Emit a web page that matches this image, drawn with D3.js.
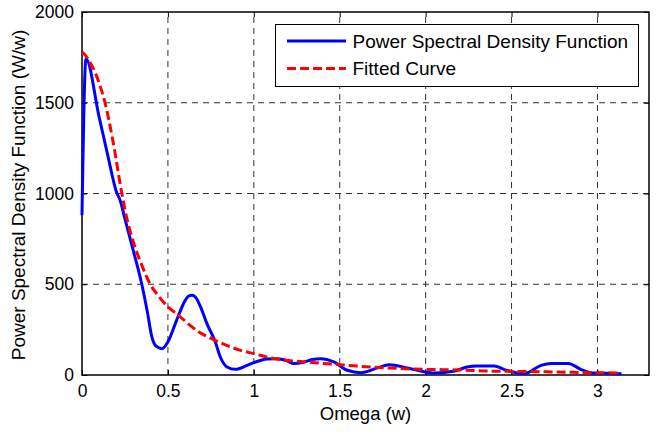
<!DOCTYPE html>
<html><head><meta charset="utf-8">
<script src="https://cdn.jsdelivr.net/npm/d3@7"></script>
<style>
html,body{margin:0;padding:0;background:#fff;}
svg{display:block;font-family:"Liberation Sans",Arial,sans-serif;}
</style></head>
<body>
<svg id="chart" width="662" height="434"></svg>
<script>
// ---- data ----
const psdOmega = [0,0.023,0.1,0.15,0.2,0.222,0.25,0.3,0.348,0.38,0.407,0.43,0.465,0.5,0.55,0.6,0.62,0.64,0.66,0.69,0.727,0.776,0.805,0.844,0.893,0.961,1.0,1.077,1.136,1.19,1.233,1.29,1.34,1.389,1.466,1.544,1.622,1.72,1.787,1.894,1.97,2.05,2.17,2.24,2.3,2.4,2.458,2.507,2.575,2.672,2.73,2.83,2.905,2.96,3.05,3.14];
const psdValues = [880,1743,1420,1210,1010,962,860,680,500,350,209,160,145,182,300,410,435,440,430,375,283,182,99,44,31,53,68,88,90,80,63,70,85,90,72,26,13,39,57,39,22,11,22,44,50,50,30,17,8,53,63,63,30,13,9,7];
const fitOmega = [0,0.008,0.05,0.1,0.134,0.18,0.232,0.26,0.3,0.35,0.397,0.45,0.5,0.562,0.62,0.688,0.766,0.85,0.922,1.0,1.08,1.155,1.23,1.31,1.4,1.5,1.6,1.758,1.99,2.2,2.34,2.5,2.73,2.96,3.14];
const fitValues = [1780,1774,1718,1608,1500,1290,1000,868,730,600,500,430,375,329,280,233,195,160,136,118,98,85,77,72,64,57,49,40,31,28,22,20,17,13,11];
const xTicks = [0,0.5,1,1.5,2,2.5,3];
const yTicks = [0,500,1000,1500,2000];
const seriesNames = ["Power Spectral Density Function","Fitted Curve"];
const xLabel = "Omega (w)";
const yLabel = "Power Spectral Density Function (W/w)";

// ---- layout ----
const L=82, R=649, T=12, B=375;
const svg = d3.select("#chart");
const x = d3.scaleLinear().domain([0,3.3]).range([L,R]);
const y = d3.scaleLinear().domain([0,2000]).range([B,T]);

// grid
const grid = svg.append("g").attr("stroke","#333").attr("stroke-width",1).attr("stroke-dasharray","6,5").attr("fill","none");
xTicks.filter(v=>v>0).forEach(v=>{
  grid.append("line").attr("x1",x(v)).attr("x2",x(v)).attr("y1",B).attr("y2",T);
});
yTicks.filter(v=>v>0 && v<2000).forEach(v=>{
  grid.append("line").attr("x1",L).attr("x2",R).attr("y1",y(v)).attr("y2",y(v));
});

// axes (ticks inside)
const fs = "17.5px";
const ax = svg.append("g").attr("transform",`translate(0,${B})`)
  .call(d3.axisBottom(x).tickValues(xTicks).tickSize(-5).tickPadding(10).tickFormat(d3.format("")));
const ay = svg.append("g").attr("transform",`translate(${L},0)`)
  .call(d3.axisLeft(y).tickValues(yTicks).tickSize(-5).tickPadding(8).tickFormat(d3.format("")));
const axTop = svg.append("g").attr("transform",`translate(0,${T})`)
  .call(d3.axisTop(x).tickValues(xTicks).tickSize(-5).tickFormat(""));
const ayRight = svg.append("g").attr("transform",`translate(${R},0)`)
  .call(d3.axisRight(y).tickValues(yTicks).tickSize(-5).tickFormat(""));
[ax,ay,axTop,ayRight].forEach(g=>{
  g.attr("font-size",null).attr("font-family",null);
  g.select(".domain").remove();
  g.selectAll(".tick line").attr("stroke","#000").attr("stroke-width",1);
  g.selectAll("text").style("font-size",fs).style("font-family","'Liberation Sans', Arial, sans-serif").attr("fill","#000");
});
ax.selectAll("text").attr("dy","0.71em").attr("y",10);

// box
svg.append("rect").attr("x",L).attr("y",T).attr("width",R-L).attr("height",B-T)
  .attr("fill","none").attr("stroke","#000").attr("stroke-width",1.5);

// lines
const lineGen = d3.line().x(d=>x(d[0])).y(d=>y(d[1])).curve(d3.curveMonotoneX);
const psd = psdOmega.map((w,i)=>[w,psdValues[i]]);
const fit = fitOmega.map((w,i)=>[w,fitValues[i]]);
svg.append("path").datum(psd).attr("d",lineGen)
  .attr("fill","none").attr("stroke","#0000ff").attr("stroke-width",3).attr("stroke-linejoin","round");
svg.append("path").datum(fit).attr("d",lineGen)
  .attr("fill","none").attr("stroke","#ff0000").attr("stroke-width",3).attr("stroke-dasharray","9,4");

// axis labels
svg.append("text").attr("x",(L+R)/2).attr("y",420).attr("text-anchor","middle")
  .style("font-size","18.5px").text(xLabel);
svg.append("text").attr("transform",`translate(25,195) rotate(-90)`).attr("text-anchor","middle")
  .style("font-size","19px").text(yLabel);

// legend
const lg = svg.append("g");
lg.append("rect").attr("x",275.5).attr("y",24.5).attr("width",363).attr("height",62)
  .attr("fill","#fff").attr("stroke","#000").attr("stroke-width",1);
const ly = [41,68.5];
lg.append("line").attr("x1",287).attr("x2",346).attr("y1",ly[0]).attr("y2",ly[0])
  .attr("stroke","#0000ff").attr("stroke-width",3);
lg.append("line").attr("x1",287).attr("x2",346).attr("y1",ly[1]).attr("y2",ly[1])
  .attr("stroke","#ff0000").attr("stroke-width",3).attr("stroke-dasharray","9,4");
seriesNames.forEach((n,i)=>{
  lg.append("text").attr("x",352.5).attr("y",ly[i]).attr("dy","0.35em")
    .style("font-size","19px").text(n);
});
</script>
</body></html>
